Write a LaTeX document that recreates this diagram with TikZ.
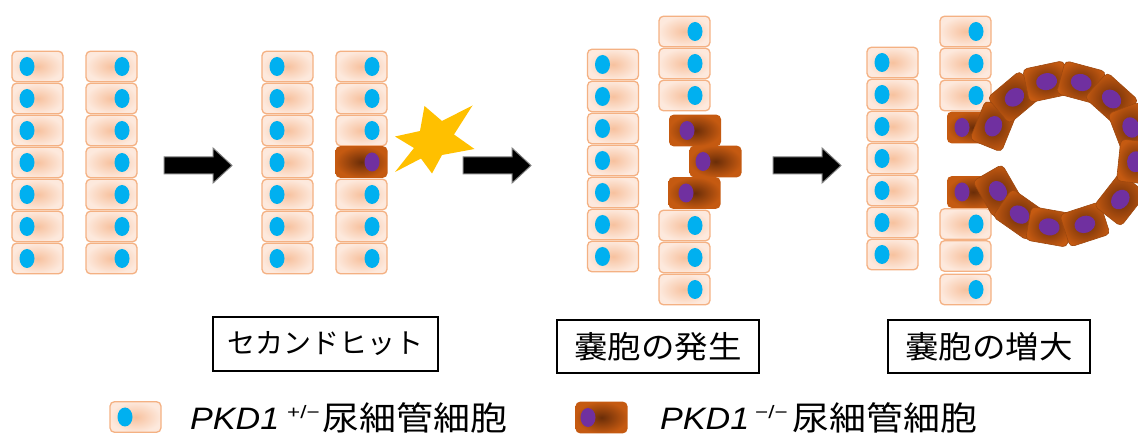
\documentclass[tikz,border=0pt]{standalone}
\usepackage{fontspec}
\usepackage{graphicx}
\setmainfont{Liberation Sans}
\newfontfamily\jpfont{Noto Sans CJK JP}
\usetikzlibrary{calc}

\definecolor{celledge}{HTML}{FDE9DD}
\definecolor{cellmid}{HTML}{F7C19E}
\definecolor{cellline}{HTML}{F4B183}
\definecolor{nucblue}{HTML}{00B0F0}
\definecolor{mutedge}{HTML}{C55A11}
\definecolor{mutmid}{HTML}{6A2D08}
\definecolor{nucpurple}{HTML}{7030A0}
\definecolor{starfill}{HTML}{FFC000}
\definecolor{arrowrim}{HTML}{7F7F7F}

\tikzset{
  cellbody/.style={draw=cellline, line width=1.3, rounded corners=4.5,
    inner color=cellmid, outer color=celledge},
  mutbody/.style={rounded corners=4.5, inner color=mutmid, outer color=mutedge},
  ringbody/.style={mutbody, draw=mutedge!80!black, line width=0.6},
  % healthy tubule cell, #1 = horizontal offset of the nucleus
  ncell/.pic={
    \path[cellbody] (-25.5,-15.3) rectangle (25.5,15.3);
    \fill[nucblue] (#1,0) ellipse (7.5 and 9.5);
  },
  % mutant tubule cell, #1 = horizontal offset of the nucleus
  mcell/.pic={
    \path[mutbody] (-26,-15.8) rectangle (26,15.8);
    \fill[nucpurple] (#1,0) ellipse (7.5 and 9.5);
  },
  % cell lining the cyst wall
  ringcell/.pic={
    \path[ringbody] (-21,-17) rectangle (21,17);
    \fill[nucpurple] (0,0) ellipse (10.5 and 8.5);
  },
  blockarrow/.pic={
    \filldraw[fill=black, draw=arrowrim, line width=1]
      (0,-8.5) -- (49,-8.5) -- (49,-17.5) -- (68,0) -- (49,17.5)
      -- (49,8.5) -- (0,8.5) -- cycle;
  },
  labelbox/.style={draw=black, line width=1.5, fill=white, inner sep=0,
    font=\jpfont},
}

\begin{document}
\begin{tikzpicture}[x=1pt, y=-1pt]
\useasboundingbox (0,0) rectangle (1138,435);
\clip (0,0) rectangle (1138,435);

% ---- stage 1: normal tubule ----
\foreach \yy in {66.5,98.5,...,258.5} {
  \pic at (37.5,\yy) {ncell=-10.5};
  \pic at (111.5,\yy) {ncell=10.5};
}
\pic at (164,165.5) {blockarrow};

% ---- stage 2: second hit ----
\foreach \yy in {66.5,98.5,...,258.5} {
  \pic at (287.5,\yy) {ncell=-10.5};
}
\foreach \yy in {66.5,98.5,130.5,194.5,226.5,258.5} {
  \pic at (361.5,\yy) {ncell=10.5};
}
\pic at (361.5,162) {mcell=10.5};
\fill[starfill] (395,136.5) -- (420,131) -- (424.5,106) -- (442,121)
  -- (472.5,105.5) -- (454,134.5) -- (474.5,149) -- (442,155)
  -- (432,173.5) -- (421,158.5) -- (395,172) -- (414,148) -- cycle;
\pic at (463,165.5) {blockarrow};

% ---- stage 3: cyst formation ----
\foreach \yy in {64.5,96.5,...,256.5} {
  \pic at (613,\yy) {ncell=-10.5};
}
\foreach \yy in {31.5,63.5,95.5,225.5,257.5,289.5} {
  \pic at (684.5,\yy) {ncell=10.5};
}
\pic at (695,130.5) {mcell=-8};
\pic at (715.5,161.5) {mcell=-12.5};
\pic at (694.5,193) {mcell=-8.5};
\pic at (773,165.5) {blockarrow};

% ---- stage 4: cyst growth ----
\foreach \yy in {62.5,94.5,...,254.5} {
  \pic at (892.5,\yy) {ncell=-10.5};
}
\foreach \yy in {31.5,63.5,95.5,224,256,289.5} {
  \pic at (965.5,\yy) {ncell=10.5};
}
\pic at (973,127.5) {mcell=-11};
\pic at (973,192) {mcell=-11};
\foreach \a in {-150,-125,-100,-72,-38} {
  \pic[rotate=\a-90] at ({1062+74*cos(\a)},{154-74*sin(\a)}) {ringcell};
}
\foreach \a in {158,130,102,75,48,21,-6} {
  \pic[rotate=\a-90] at ({1062+74*cos(\a)},{154-74*sin(\a)}) {ringcell};
}

% ---- stage captions ----
\node[labelbox, minimum width=225, minimum height=54] (hit) at (325.5,344)
  {\fontsize{28}{30}\selectfont セカンドヒット};
\node[labelbox, minimum width=202, minimum height=53] (cyst) at (658,346.5)
  {\scalebox{1.08}[1]{\fontsize{31}{33}\selectfont 嚢胞の発生}};
\node[labelbox, minimum width=202, minimum height=53] (grow) at (989,346.5)
  {\scalebox{1.08}[1]{\fontsize{31}{33}\selectfont 嚢胞の増大}};

% ---- legend ----
\pic at (135.5,417) {ncell=-10.5};
\node[anchor=base west, inner sep=0] (pkdA) at (190,429)
  {\scalebox{1.1}[1]{\fontsize{31}{31}\selectfont\itshape PKD1}};
\node[anchor=base west, inner sep=0] (supA) at (287,418)
  {\scalebox{1.25}[1]{\fontsize{18}{18}\selectfont +/−}};
\node[anchor=west, inner sep=0] (txtA) at (322,418)
  {\jpfont\scalebox{1.12}[1]{\fontsize{33}{33}\selectfont 尿細管細胞}};

\pic at (601.5,417.5) {mcell=-13.5};
\node[anchor=base west, inner sep=0] (pkdB) at (660,429)
  {\scalebox{1.1}[1]{\fontsize{31}{31}\selectfont\itshape PKD1}};
\node[anchor=base west, inner sep=0] (supB) at (755,418)
  {\scalebox{1.25}[1]{\fontsize{18}{18}\selectfont −/−}};
\node[anchor=west, inner sep=0] (txtB) at (792,418)
  {\jpfont\scalebox{1.12}[1]{\fontsize{33}{33}\selectfont 尿細管細胞}};
\end{tikzpicture}
\end{document}
